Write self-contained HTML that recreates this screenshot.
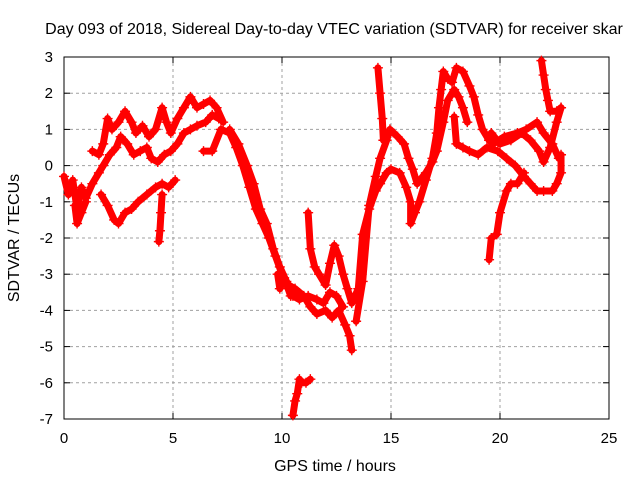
<!DOCTYPE html>
<html><head><meta charset="utf-8"><style>
body{margin:0;background:#fff}
svg{display:block;font-family:"Liberation Sans",sans-serif}
</style></head><body>
<svg id="chart" width="640" height="480">
<rect width="640" height="480" fill="#fff"/>
<g id="grid"></g><g id="axes"></g><g id="marks"></g>
<text x="334" y="34" font-size="16" text-anchor="middle">Day 093 of 2018, Sidereal Day-to-day VTEC variation (SDTVAR) for receiver skar</text>
<text x="335" y="471" font-size="16" text-anchor="middle">GPS time / hours</text>
<text transform="translate(19,238) rotate(-90)" font-size="16" text-anchor="middle">SDTVAR / TECUs</text>
</svg>
<script>
const xTicks=[0,5,10,15,20,25];
const yTicks=[3,2,1,0,-1,-2,-3,-4,-5,-6,-7];
const s1=[[0,-0.3],[0.2,-0.8],[0.4,-0.4],[0.6,-1.2],[0.8,-0.6],[1.0,-0.9],[1.3,-0.5],[1.6,-0.2],[1.8,0.0],[2.1,0.3],[2.4,0.5],[2.6,0.8],[2.9,0.6],[3.2,0.3],[3.5,0.4],[3.8,0.5],[4.0,0.2],[4.3,0.1],[4.6,0.3],[4.9,0.4],[5.2,0.6],[5.5,0.9],[5.8,1.0],[6.1,1.1],[6.5,1.2],[6.8,1.4],[7.1,1.3]];
const s2=[[1.3,0.4],[1.6,0.3],[1.8,0.6],[2.0,1.3],[2.2,1.0],[2.5,1.2],[2.8,1.5],[3.1,1.2],[3.3,0.9],[3.6,1.1],[3.9,0.8],[4.2,1.0],[4.5,1.6],[4.7,1.2],[4.9,0.9],[5.2,1.3],[5.5,1.6],[5.8,1.9],[6.1,1.6],[6.4,1.7],[6.7,1.8],[7.0,1.6],[7.3,1.2]];
const s3=[[1.7,-0.8],[2.0,-1.1],[2.3,-1.5],[2.5,-1.6],[2.8,-1.3],[3.1,-1.2],[3.4,-1.0],[3.8,-0.8],[4.2,-0.6],[4.5,-0.5],[4.8,-0.6],[5.1,-0.4]];
const s4=[[4.5,-0.8],[4.45,-1.3],[4.4,-1.8],[4.35,-2.1]];
const s4b=[[0.5,-1.1],[0.6,-1.6],[0.8,-1.3],[1.0,-1.0]];
const s5=[[6.4,0.4],[6.8,0.4],[7.2,1.0],[7.6,0.9],[7.9,0.5],[8.2,0.0],[8.5,-0.6],[8.8,-1.2],[9.1,-1.6],[9.4,-2.0],[9.7,-2.5],[10.0,-3.0],[10.3,-3.3],[10.6,-3.4],[11.0,-3.6],[11.3,-3.9],[11.6,-4.1],[12.0,-4.0],[12.3,-4.2],[12.6,-4.0],[12.9,-4.4],[13.1,-4.7],[13.2,-5.1]];
const s5b=[[7.6,1.0],[8.0,0.6],[8.4,0.0],[8.7,-0.5],[9.0,-1.2],[9.3,-1.6],[9.6,-2.3],[9.9,-2.8],[10.2,-3.2],[10.5,-3.6],[10.8,-3.7],[11.2,-3.6],[11.6,-3.7],[11.9,-3.8],[12.2,-3.5],[12.5,-3.6],[12.8,-3.9]];
const s5c=[[9.8,-3.0],[9.9,-3.4],[10.1,-3.1],[10.4,-3.6],[10.8,-3.6]];
const s6=[[10.5,-6.9],[10.6,-6.5],[10.7,-6.3],[10.8,-5.9],[10.9,-6.0],[11.1,-6.0],[11.3,-5.9]];
const s7=[[11.2,-1.3],[11.3,-2.3],[11.5,-2.8],[11.7,-3.0],[12.0,-3.3],[12.2,-2.7],[12.4,-2.2],[12.6,-2.5],[12.8,-3.0],[13.0,-3.4],[13.2,-3.8],[13.5,-3.4],[13.7,-1.9],[14.0,-1.2],[14.3,-0.7],[14.5,-0.5],[14.8,-0.2],[15.0,-0.1],[15.4,-0.2],[15.7,-0.6],[15.9,-1.0],[15.9,-1.6],[16.1,-1.3],[16.3,-1.0],[16.6,-0.4],[16.9,0.2],[17.1,0.9],[17.2,1.6],[17.3,2.1],[17.4,2.6],[17.6,2.4],[17.8,2.3],[18.0,2.7],[18.3,2.6],[18.6,2.2],[18.8,1.9],[19.0,1.4],[19.2,1.0],[19.5,0.7],[19.7,0.6],[20.2,0.8],[20.8,0.9],[21.2,1.0],[21.7,1.2],[22.0,0.9],[22.4,0.6],[22.7,0.2]];
const s8=[[13.4,-4.3],[13.7,-3.2],[14.0,-1.1],[14.3,-0.3],[14.5,0.2],[14.8,0.7],[14.95,1.0],[15.3,0.8],[15.6,0.6],[15.8,0.2],[16.0,-0.1],[16.2,-0.5],[16.6,-0.2],[16.9,0.1],[17.1,0.4],[17.4,1.2],[17.6,1.8],[17.9,2.1],[18.1,1.9],[18.3,1.6],[18.5,1.2]];
const s8b=[[17.9,1.35],[18.0,0.6],[18.3,0.5],[18.6,0.4],[19.0,0.3],[19.4,0.5],[19.9,0.4],[20.3,0.2],[20.7,0.0],[21.1,-0.3],[21.4,-0.5],[21.7,-0.7],[22.0,-0.7],[22.4,-0.7],[22.6,-0.5],[22.8,-0.2],[22.8,0.3]];
const s9=[[14.4,2.7],[14.5,2.0],[14.6,1.3],[14.65,0.7]];
const s10=[[19.5,-2.6],[19.6,-2.0],[19.85,-1.9],[20.0,-1.3],[20.3,-0.7],[20.5,-0.5],[20.8,-0.5],[21.1,-0.2]];
const s11=[[19.6,0.9],[20.0,0.6],[20.5,0.7],[21.0,0.9],[21.4,0.7],[21.8,0.4],[22.0,0.1],[22.3,0.5],[22.6,1.2],[22.8,1.6]];
const s12=[[21.9,2.9],[22.0,2.5],[22.1,2.1],[22.2,1.8],[22.3,1.5],[22.6,1.5],[22.8,1.6]];
const series=[s1,s2,s3,s4,s4b,s5,s5b,s5c,s6,s7,s8,s8b,s9,s10,s11,s12];
const X0=64,X1=609,Y0=57,Y1=419;
const xs=t=>X0+(X1-X0)*t/25;
const ys=v=>Y0+(Y1-Y0)*(3-v)/10;
const NS='http://www.w3.org/2000/svg';
function mk(tag,attrs,parent){const e=document.createElementNS(NS,tag);for(const k in attrs)e.setAttribute(k,attrs[k]);parent.appendChild(e);return e;}
const grid=document.getElementById('grid'),axes=document.getElementById('axes'),marks=document.getElementById('marks');
xTicks.forEach(t=>{const x=xs(t);
 if(t>0&&t<25){const g=mk('line',{x1:x,x2:x,y1:Y0,y2:Y1,stroke:'#a0a0a0','stroke-dasharray':'3,3'},grid);
 
 }
 mk('line',{x1:x,x2:x,y1:Y1,y2:Y1-6,stroke:'#000'},axes);mk('line',{x1:x,x2:x,y1:Y0,y2:Y0+6,stroke:'#000'},axes);
 const l=mk('text',{x:x,y:443,'font-size':15,'text-anchor':'middle'},axes);l.textContent=t;
 
 });
yTicks.forEach(v=>{const y=ys(v);
 if(v<3&&v>-7){const g=mk('line',{x1:X0,x2:X1,y1:y,y2:y,stroke:'#a0a0a0','stroke-dasharray':'3,3'},grid);
 
 }
 mk('line',{x1:X0,x2:X0+6,y1:y,y2:y,stroke:'#000'},axes);mk('line',{x1:X1,x2:X1-6,y1:y,y2:y,stroke:'#000'},axes);
 const l=mk('text',{x:53,y:y+5,'font-size':15,'text-anchor':'end'},axes);l.textContent=v;
 
 });
const fr=mk('rect',{x:X0,y:Y0,width:X1-X0,height:Y1-Y0,fill:'none',stroke:'#000'},axes);


series.forEach((s,i)=>{
 const pl=mk('polyline',{points:s.map(p=>xs(p[0])+','+ys(p[1])).join(' '),fill:'none',stroke:'#f00','stroke-width':7,'stroke-linejoin':'round','stroke-linecap':'round'},marks);
 
 
 s.forEach(p=>{const x=xs(p[0]),y=ys(p[1]);
  const m=mk('path',{d:`M${x-5},${y}h10M${x},${y-5}v10`,stroke:'#f00','stroke-width':1.4},marks);
  
  });
});
</script>
</body></html>
